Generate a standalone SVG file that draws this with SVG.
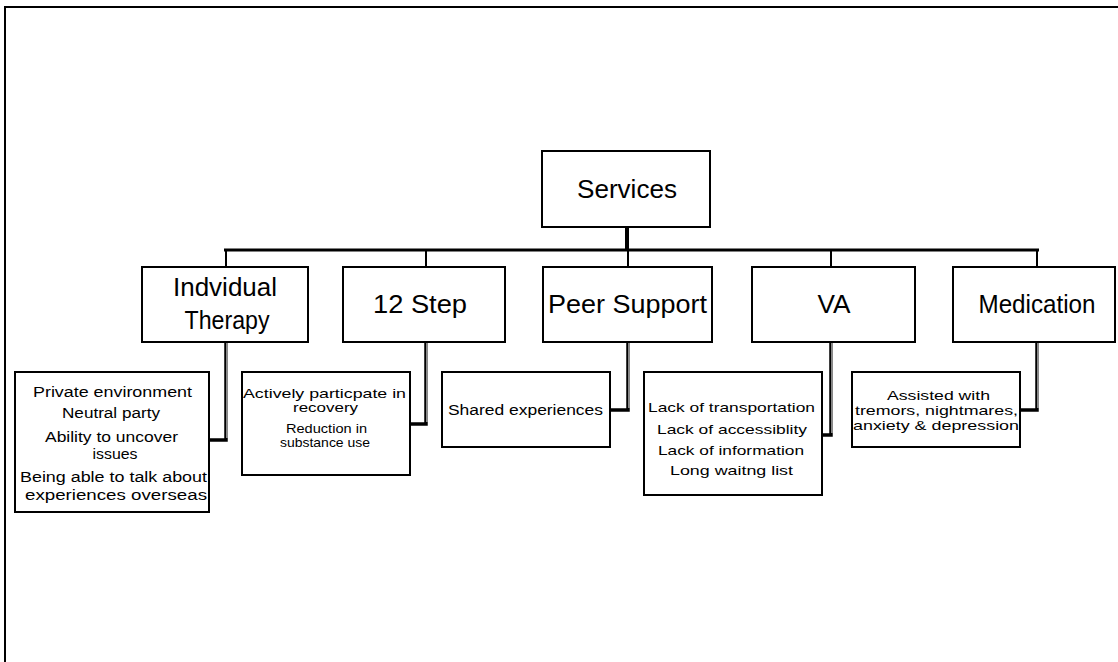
<svg xmlns="http://www.w3.org/2000/svg" width="1118" height="662" viewBox="0 0 1118 662">
<style>
.box{fill:#fff;stroke:#000;stroke-width:2}
.t{font-family:"Liberation Sans",Arial,sans-serif;fill:#000;text-anchor:middle}
.big{font-size:25px}
.sm{font-size:13.5px}
.bus{fill:none;stroke:#000;stroke-width:3}
.stem{fill:none;stroke:#000;stroke-width:2}
.cb{fill:none;stroke:#000;stroke-width:3.5}
.cg{fill:none;stroke:#888;stroke-width:2}
</style>
<rect width="1118" height="662" fill="#fff"/>
<g id="frame">
<line x1="4" y1="7" x2="1118" y2="7" stroke="#000" stroke-width="2"/>
<line x1="5" y1="6" x2="5" y2="662" stroke="#000" stroke-width="2"/>
</g>
<g id="connectors">
<line x1="627" y1="227" x2="627" y2="250" stroke="#000" stroke-width="4"/>
<line class="bus" x1="224" y1="250" x2="1039" y2="250"/>
<line class="stem" x1="226" y1="250" x2="226" y2="267"/>
<line class="stem" x1="426" y1="250" x2="426" y2="267"/>
<line class="stem" x1="628" y1="250" x2="628" y2="267"/>
<line class="stem" x1="831" y1="250" x2="831" y2="267"/>
<line class="stem" x1="1037" y1="250" x2="1037" y2="267"/>
<path class="cb" d="M226 342 V440 H209"/>
<path class="cg" d="M227 343 V438"/>
<path class="cb" d="M426 342 V424 H410"/>
<path class="cg" d="M427 343 V422"/>
<path class="cb" d="M628 342 V410 H610"/>
<path class="cg" d="M629 343 V408"/>
<path class="cb" d="M831 342 V435 H822"/>
<path class="cg" d="M832 343 V433"/>
<path class="cb" d="M1037 342 V410 H1020"/>
<path class="cg" d="M1038 343 V408"/>
</g>
<g id="services">
<rect class="box" x="542" y="151" width="168" height="76"/>
<text class="t" x="627" y="198" font-size="26" textLength="100" lengthAdjust="spacingAndGlyphs">Services</text>
</g>
<g id="individual-therapy">
<rect class="box" x="142" y="267" width="166" height="75"/>
<text class="t big" x="225" y="296" textLength="104" lengthAdjust="spacingAndGlyphs">Indvidual</text>
<text class="t big" x="227" y="329" textLength="85" lengthAdjust="spacingAndGlyphs">Therapy</text>
</g>
<g id="twelve-step">
<rect class="box" x="343" y="267" width="162" height="75"/>
<text class="t big" x="420" y="313" textLength="94" lengthAdjust="spacingAndGlyphs">12 Step</text>
</g>
<g id="peer-support">
<rect class="box" x="543" y="267" width="169" height="75"/>
<text class="t big" x="627.5" y="313" textLength="159" lengthAdjust="spacingAndGlyphs">Peer Support</text>
</g>
<g id="va">
<rect class="box" x="752" y="267" width="163" height="75"/>
<text class="t big" x="834" y="313" textLength="33" lengthAdjust="spacingAndGlyphs">VA</text>
</g>
<g id="medication">
<rect class="box" x="953" y="267" width="162" height="75"/>
<text class="t big" x="1037" y="313" textLength="117" lengthAdjust="spacingAndGlyphs">Medication</text>
</g>
<g id="therapy-details">
<rect class="box" x="15" y="372" width="194" height="140"/>
<g class="t" font-size="14">
<text x="112.5" y="397" textLength="159" lengthAdjust="spacingAndGlyphs">Private  environment</text>
<text x="111" y="418" textLength="98" lengthAdjust="spacingAndGlyphs">Neutral party</text>
<text x="111.5" y="442" textLength="133" lengthAdjust="spacingAndGlyphs">Ability to uncover</text>
<text x="115" y="459" textLength="45" lengthAdjust="spacingAndGlyphs">issues</text>
<text x="113.5" y="482" textLength="187" lengthAdjust="spacingAndGlyphs">Being able to talk about</text>
<text x="116" y="500" textLength="182" lengthAdjust="spacingAndGlyphs">experiences overseas</text>
</g>
</g>
<g id="step-details">
<rect class="box" x="242" y="372" width="168" height="103"/>
<g class="t sm">
<text x="324.5" y="398" textLength="163" lengthAdjust="spacingAndGlyphs">Actively particpate in</text>
<text x="325.5" y="412" textLength="65" lengthAdjust="spacingAndGlyphs">recovery</text>
<text x="326.5" y="433" textLength="81" lengthAdjust="spacingAndGlyphs">Reduction in</text>
<text x="325" y="447" textLength="90" lengthAdjust="spacingAndGlyphs">substance use</text>
</g>
</g>
<g id="peer-details">
<rect class="box" x="442" y="372" width="168" height="75"/>
<text class="t" font-size="14" x="525.5" y="415" textLength="155" lengthAdjust="spacingAndGlyphs">Shared experiences</text>
</g>
<g id="va-details">
<rect class="box" x="644" y="372" width="178" height="123"/>
<g class="t sm">
<text x="731.5" y="412" textLength="167" lengthAdjust="spacingAndGlyphs">Lack of transportation</text>
<text x="732" y="434" textLength="150" lengthAdjust="spacingAndGlyphs">Lack of accessiblity</text>
<text x="731" y="455" textLength="146" lengthAdjust="spacingAndGlyphs">Lack of information</text>
<text x="731.5" y="475" textLength="123" lengthAdjust="spacingAndGlyphs">Long waitng list</text>
</g>
</g>
<g id="medication-details">
<rect class="box" x="852" y="372" width="168" height="75"/>
<g class="t sm">
<text x="938.5" y="400" textLength="103" lengthAdjust="spacingAndGlyphs">Assisted with</text>
<text x="936.5" y="415" textLength="163" lengthAdjust="spacingAndGlyphs">tremors, nightmares,</text>
<text x="936" y="430" textLength="166" lengthAdjust="spacingAndGlyphs">anxiety &amp; depression</text>
</g>
</g>
</svg>
